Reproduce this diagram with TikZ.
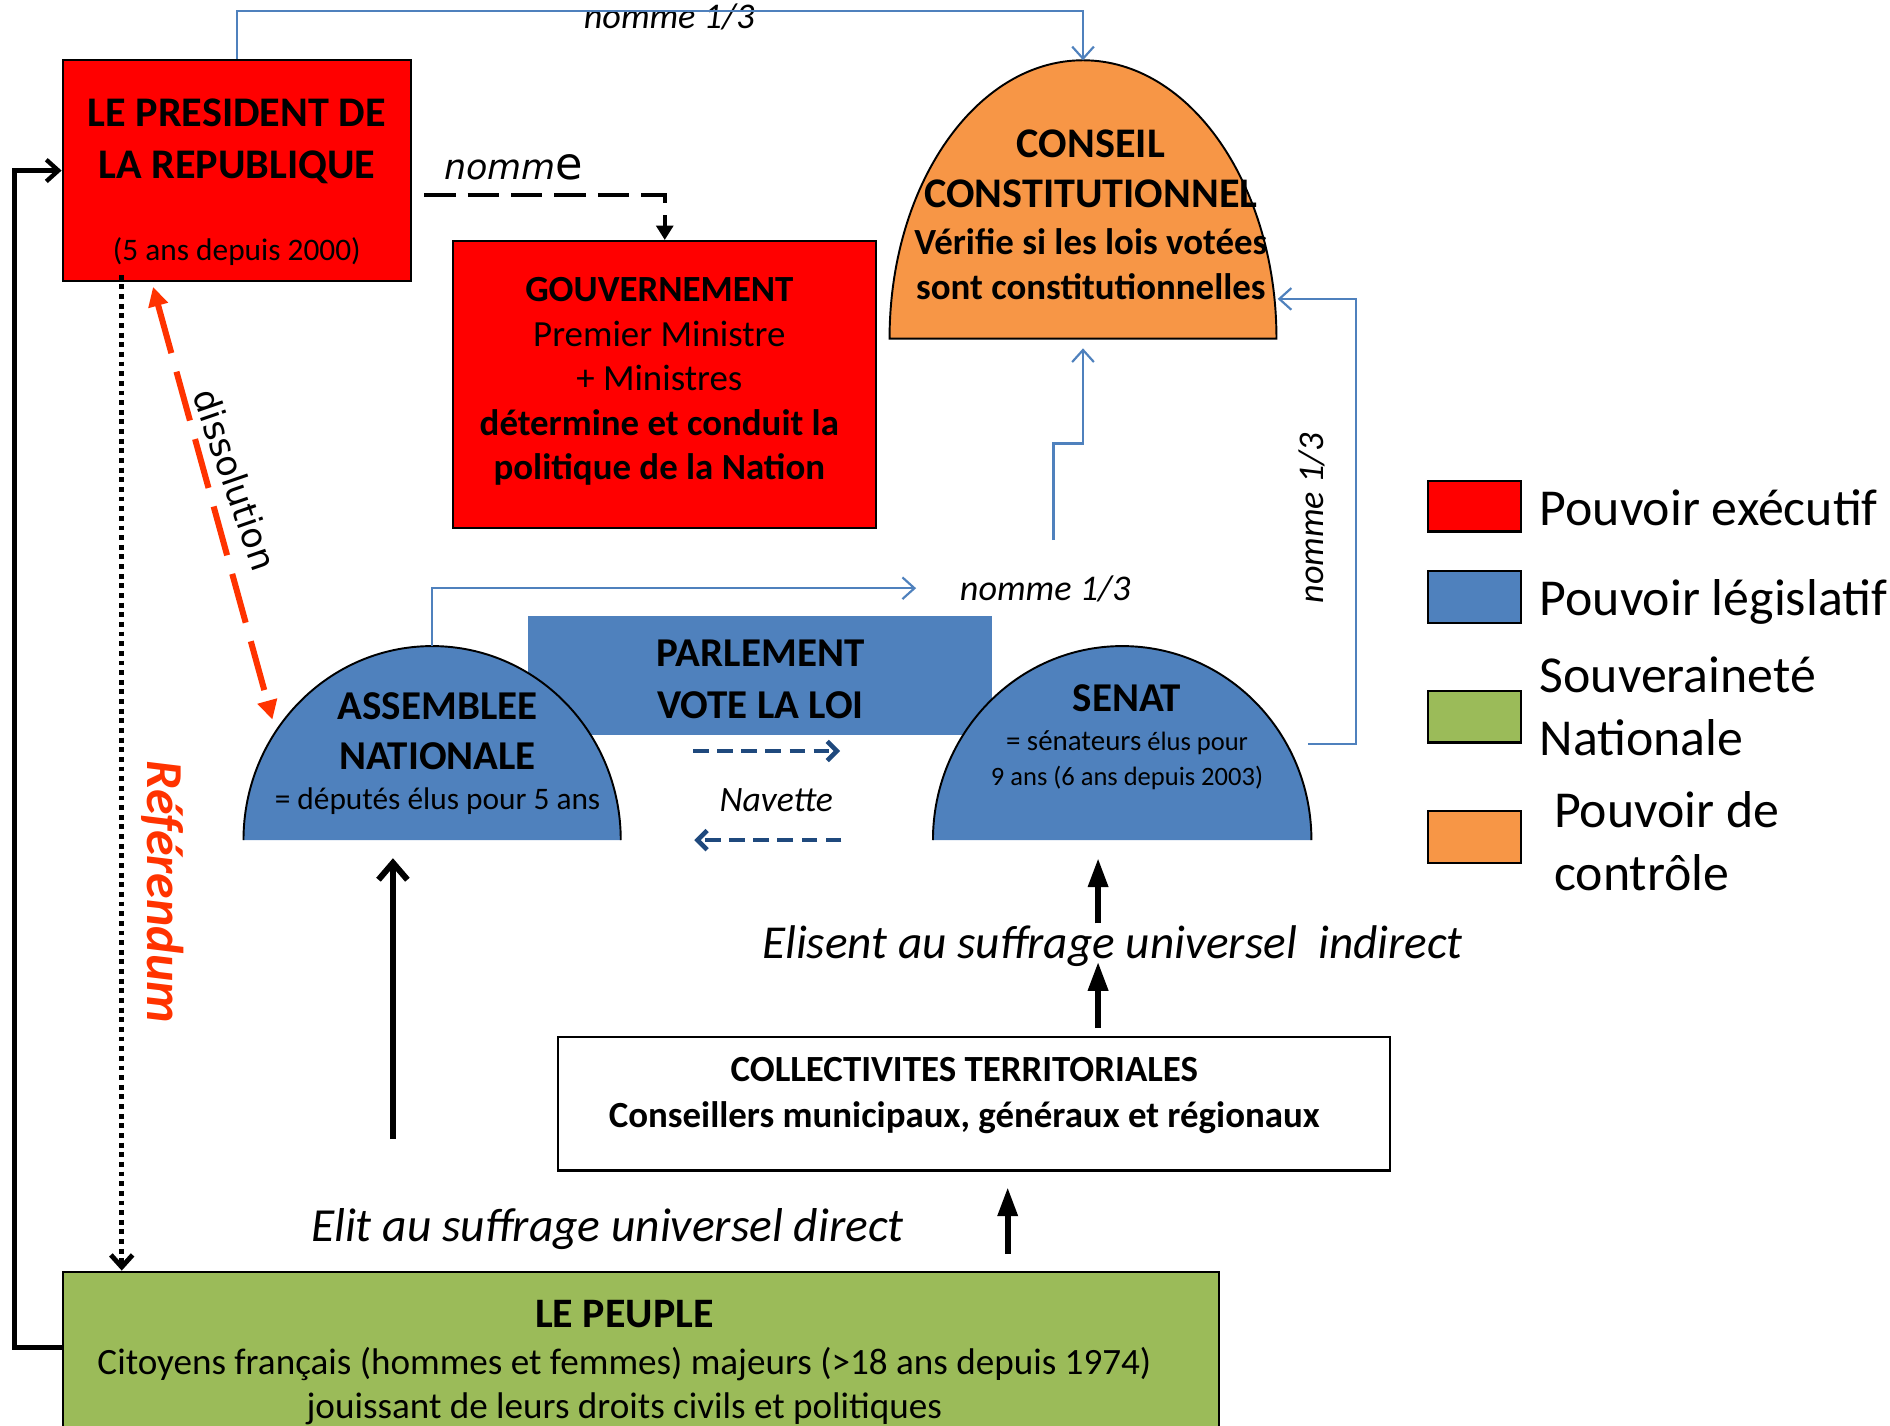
\documentclass[tikz,border=0pt]{standalone}
\usepackage{fontspec}
\setmainfont{Carlito}
\newfontfamily\dejavu{DejaVu Sans}[ItalicFont={DejaVu Sans Oblique}]
\usetikzlibrary{arrows.meta}
\definecolor{rouge}{HTML}{FF0000}
\definecolor{bleu}{HTML}{4F81BD}
\definecolor{vert}{HTML}{9BBB59}
\definecolor{orangecc}{HTML}{F79646}
\definecolor{bleufonce}{HTML}{1F497D}
\definecolor{rougevif}{HTML}{FF3300}
\newcommand\fs[2]{\fontsize{#1}{#2}\selectfont}

\begin{document}
\begin{tikzpicture}[x=0.5pt, y=0.5pt,
  boite/.style={draw=black, line width=0.9pt, inner sep=0pt},
  texte/.style={align=center, inner sep=0pt},
  lien/.style={draw=bleu, line width=0.9pt, -{Straight Barb[length=5pt, width=9pt]}},
  montee/.style={line width=2.4pt, -{Triangle[length=12pt, width=8pt]}},
  navette/.style={draw=bleufonce, line width=1.9pt, dash pattern=on 6.5pt off 3.5pt, -{Straight Barb[length=4pt, width=8pt]}},
  legende/.style={anchor=base west, inner sep=0pt, font=\fs{21.5}{26}}]
\useasboundingbox (0,0) rectangle (1568,-1183);
\clip (0,0) rectangle (1568,-1183);

% boites
\node[boite, fill=rouge, minimum width=144.5pt, minimum height=91.5pt] (pres) at (196.5,-141.5) {};
\node[boite, fill=rouge, minimum width=175.5pt, minimum height=119pt] (gouv) at (551.5,-319) {};
\node[fill=bleu, inner sep=0pt, minimum width=192.5pt, minimum height=49.5pt] (parl) at (630.5,-560.5) {};
\node[boite, fill=white, minimum width=345pt, minimum height=55.5pt] (coll) at (808,-915.5) {};
\node[boite, fill=vert, minimum width=479.5pt, minimum height=70pt] (peuple) at (531.5,-1125) {};

% demi-ellipses
\filldraw[fill=orangecc, line width=0.8pt] (738,-281) arc[start angle=180, end angle=0, x radius=160.5, y radius=231] -- cycle;
\fill[bleu] (202,-697) arc[start angle=180, end angle=0, x radius=156.5, y radius=161] -- cycle;
\draw[line width=0.8pt] (202,-697) arc[start angle=180, end angle=0, x radius=156.5, y radius=161];
\fill[bleu] (774,-697) arc[start angle=180, end angle=0, x radius=157, y radius=161] -- cycle;
\draw[line width=0.8pt] (774,-697) arc[start angle=180, end angle=0, x radius=157, y radius=161];

% textes
\node[texte, font=\bfseries\fs{17.5}{21.5}] (pres-t) at (196.5,-117.5) {LE PRESIDENT DE\\LA REPUBLIQUE};
\node[texte, font=\fs{13}{15}] (pres-s) at (196.5,-209) {(5 ans depuis 2000)};
\node[texte, font=\fs{15.3}{18.5}] (gouv-t) at (547,-316.5) {\textbf{GOUVERNEMENT}\\Premier Ministre\\+ Ministres\\\textbf{détermine et conduit la}\\\textbf{politique de la Nation}};
\node[texte, font=\bfseries\fs{17.5}{21}] (cc-t) at (905,-140) {CONSEIL\\CONSTITUTIONNEL};
\node[texte, font=\bfseries\fs{15.3}{18.5}] (cc-s) at (905,-219) {Vérifie si les lois votées\\sont constitutionnelles};
\node[texte, font=\bfseries\fs{17}{21.5}] (parl-t) at (631,-563.5) {PARLEMENT\\VOTE LA LOI};
\node[texte, font=\bfseries\fs{17}{21}] (an-t) at (363,-606.5) {ASSEMBLEE\\NATIONALE};
\node[texte, font=\fs{13}{15}] (an-s) at (363,-665) {= députés élus pour 5 ans};
\node[texte, font=\bfseries\fs{17}{21}] (sen-t) at (935,-579) {SENAT};
\node[texte, font=\fs{11}{14.5}] (sen-s) at (935,-631) {{\fs{12}{14.5}= sénateurs} élus pour\\9 ans (6 ans depuis 2003)};
\node[texte, font=\bfseries\fs{15.3}{19}] (coll-t) at (800,-909) {COLLECTIVITES TERRITORIALES\\Conseillers municipaux, généraux et régionaux};
\node[texte, font=\bfseries\fs{17.4}{20}] (peuple-t) at (518,-1090) {LE PEUPLE};
\node[texte, font=\fs{15.4}{18}] (peuple-s) at (518,-1150) {Citoyens français (hommes et femmes) majeurs (>18 ans depuis 1974)\\jouissant de leurs droits civils et politiques};

% etiquettes des fleches
\node[anchor=base west, inner sep=0pt, font=\itshape\fs{15}{18}] (nom-cc) at (484,-24) {nomme 1/3};
\node[anchor=base west, inner sep=0pt, font=\dejavu\fs{14.5}{18}] (nom-gouv) at (368,-149) {\textit{nomm}{\fs{18.5}{18}e}};
\node[inner sep=0pt, rotate=-71, font=\dejavu\fs{14.5}{18}] (diss) at (195,-398) {dissolution};
\node[inner sep=0pt, rotate=-90, text=rougevif, font=\bfseries\itshape\fs{21.5}{24}] (refer) at (135,-740) {Référendum};
\node[anchor=base west, inner sep=0pt, font=\itshape\fs{15}{18}] (nom-an) at (796,-498) {nomme 1/3};
\node[inner sep=0pt, rotate=90, font=\itshape\fs{15}{18}] (nom-sen) at (1088,-430) {nomme 1/3};
\node[inner sep=0pt, font=\itshape\fs{14.8}{18}] (nav) at (644,-664) {Navette};
\node[inner sep=0pt, font=\itshape\fs{19.6}{22}] (indirect) at (923,-785) {Elisent au suffrage universel~ indirect};
\node[inner sep=0pt, font=\itshape\fs{19.7}{22}] (direct) at (504,-1020) {Elit au suffrage universel direct};

% legende
\node[boite, fill=rouge, minimum width=38.5pt, minimum height=21pt] (leg-exe) at (1223.5,-420) {};
\node[boite, fill=bleu, minimum width=38.5pt, minimum height=21.5pt] (leg-leg) at (1223.5,-495.5) {};
\node[boite, fill=vert, minimum width=38.5pt, minimum height=21.5pt] (leg-sou) at (1223.5,-594.5) {};
\node[boite, fill=orangecc, minimum width=38.5pt, minimum height=21.5pt] (leg-con) at (1223.5,-694.5) {};
\node[legende] (leg-exe-t) at (1277,-436) {Pouvoir exécutif};
\node[legende] (leg-leg-t) at (1277,-511) {Pouvoir législatif};
\node[anchor=west, align=left, inner sep=0pt, font=\fs{21.5}{26}] (leg-sou-t) at (1277,-586) {Souveraineté\\Nationale};
\node[anchor=west, align=left, inner sep=0pt, font=\fs{21.5}{26}] (leg-con-t) at (1289,-698) {Pouvoir de\\contrôle};

% points d'attache
\coordinate (cc-haut) at (898.5,-50);
\coordinate (cc-bas) at (898.5,-289);
\coordinate (cc-droite) at (1060,-248);
\coordinate (an-haut) at (358.5,-536);
\coordinate (sen-droite) at (1085,-617);
\coordinate (vers-cc) at (874,-448);
\coordinate (vers-nom) at (760,-488);
\coordinate (nom-dep) at (352,-162);
\coordinate (diss-haut) at (127,-238);
\coordinate (diss-bas) at (226,-597);
\coordinate (ref-dep) at (101,-228);
\coordinate (an-bas) at (326,-712);
\coordinate (elu-an) at (326,-945);
\coordinate (sen-bas) at (911,-712);
\coordinate (ind-haut) at (911,-766);
\coordinate (ind-bas) at (911,-798);
\coordinate (coll-haut) at (911,-853);
\coordinate (coll-bas) at (836,-985);
\coordinate (peuple-haut) at (836,-1040);
\coordinate (nav-g1) at (575,-623);
\coordinate (nav-d1) at (697,-623);
\coordinate (nav-d2) at (698,-697);
\coordinate (nav-g2) at (576,-697);

% fleches
\draw[lien] (pres.north) -- ++(0,40) -| (cc-haut);
\draw[lien] (an-haut) |- (vers-nom);
\draw[lien] (vers-cc) -- ++(0,80) -| (cc-bas);
\draw[lien] (sen-droite) -- ++(40,0) |- (cc-droite);
\draw[line width=1.7pt, dash pattern=on 13pt off 5pt, -{Triangle[length=6pt, width=7pt]}] (nom-dep) -| (gouv.north);
\draw[rougevif, line width=2.5pt, dash pattern=on 21pt off 8pt, {Triangle[length=8pt, width=8pt]}-{Triangle[length=8pt, width=8pt]}] (diss-haut) -- (diss-bas);
\draw[line width=2pt, dash pattern=on 2pt off 2pt, -{Straight Barb[length=5pt, width=9pt]}] (ref-dep) -- (ref-dep |- peuple.north);
\draw[line width=1.8pt, -{Straight Barb[length=5pt, width=9pt]}] ([yshift=3.5pt]peuple.west) -- ++(-39,0) |- (pres.west);
\draw[line width=2.5pt, -{Straight Barb[length=7pt, width=12pt]}] (elu-an) -- (an-bas);
\draw[montee] (ind-haut) -- (sen-bas);
\draw[montee] (coll-haut) -- (ind-bas);
\draw[montee] (peuple-haut) -- (coll-bas);
\draw[navette] (nav-g1) -- (nav-d1);
\draw[navette] (nav-d2) -- (nav-g2);
\end{tikzpicture}
\end{document}
